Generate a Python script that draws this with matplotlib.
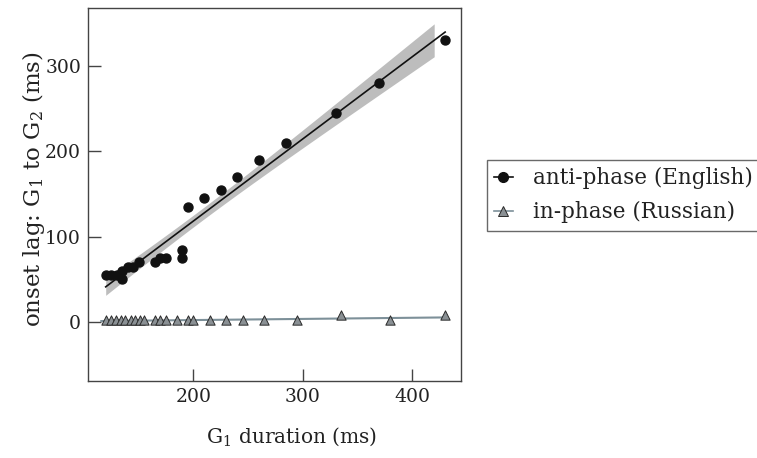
import numpy as np
import matplotlib
matplotlib.use("Agg")
import matplotlib.pyplot as plt

plt.rcParams['font.family'] = ['DejaVu Serif']
plt.rcParams['mathtext.fontset'] = 'dejavuserif'

# anti-phase (English): G1 duration vs onset lag
anti_x = [120, 125, 130, 135, 135, 140, 145, 150, 165, 170, 175, 190, 190,
          195, 210, 225, 240, 260, 285, 330, 370, 430]
anti_y = [55, 55, 55, 50, 60, 65, 65, 70, 70, 75, 75, 85, 75,
          135, 145, 155, 170, 190, 210, 245, 280, 330]

# in-phase (Russian)
in_x = [120, 125, 129, 134, 138, 143, 147, 151, 155, 165, 170, 175, 185,
        195, 200, 215, 230, 245, 265, 295, 335, 380, 430]
in_y = [2, 2, 2, 2, 2, 2, 2, 2, 2, 2, 2, 2, 2,
        2, 2, 2, 2, 2, 2, 2, 8, 2, 8]

xticks = [200, 300, 400]
yticks = [0, 100, 200, 300]


def fit_band(x, y, xs):
    x = np.asarray(x, float)
    y = np.asarray(y, float)
    n = len(x)
    b, a = np.polyfit(x, y, 1)
    resid = y - (a + b * x)
    s = np.sqrt(np.sum(resid ** 2) / (n - 2))
    se = s * np.sqrt(1 / n + (xs - x.mean()) ** 2 / np.sum((x - x.mean()) ** 2))
    fit = a + b * xs
    return fit, 2.2 * se


fig = plt.figure(figsize=(7.57, 4.58), dpi=100)
ax = fig.add_axes([0.1162, 0.168, 0.4928, 0.8145])

# regression band + line for anti-phase
xb = np.linspace(min(anti_x), 420, 100)
fit, ci = fit_band(anti_x, anti_y, xb)
ax.fill_between(xb, fit - ci, fit + ci, color='#bdbdbd', lw=0, zorder=1)
xl = np.linspace(min(anti_x), max(anti_x), 100)
fl, _ = fit_band(anti_x, anti_y, xl)
ax.plot(xl, fl, color='#111111', lw=1.2, zorder=2)

# in-phase line
b2, a2 = np.polyfit(in_x, in_y, 1)
xi = np.linspace(min(in_x) - 4, max(in_x), 100)
ax.plot(xi, a2 + b2 * xi, color='#7d9099', lw=1.5, zorder=2)

ax.scatter(anti_x, anti_y, s=42, color='#111111', zorder=3)
ax.scatter(in_x, in_y, s=45, marker='^', facecolor='#8a9094',
           edgecolor='#2a2a2a', linewidth=0.7, zorder=3)

ax.set_xlim(103.8, 444.5)
ax.set_ylim(-69, 368)
ax.set_xticks(xticks)
ax.set_yticks(yticks)
ax.tick_params(direction='in', length=9, width=1, color='#444444',
               labelsize=13.5, pad=5, labelcolor='#222222')
for sp in ax.spines.values():
    sp.set_color('#444444')
    sp.set_linewidth(1)

ax.set_xlabel('G$_1$ duration (ms)', fontsize=14.5, color='#222222')
ax.xaxis.set_label_coords(0.547, -0.12)
ax.set_ylabel('onset lag: G$_1$ to G$_2$ (ms)', fontsize=16.5,
              color='#222222')
ax.yaxis.set_label_coords(-0.11, 0.515)

h1, = ax.plot([], [], color='#111111', marker='o', ms=7, lw=1.2)
h2, = ax.plot([], [], color='#7d9099', marker='^', ms=7, lw=1.2,
              mfc='#8a9094', mec='#2a2a2a', mew=0.7)
leg = fig.legend([h1, h2], ['anti-phase (English)', 'in-phase (Russian)'],
                 loc='upper left', bbox_to_anchor=(0.643, 0.651),
                 fontsize=15.5, frameon=True, fancybox=False,
                 handlelength=0.85, handletextpad=0.95, borderpad=0.35,
                 labelspacing=0.55, borderaxespad=0)
leg.get_frame().set_edgecolor('#444444')
leg.get_frame().set_linewidth(1)
for t in leg.get_texts():
    t.set_color('#222222')

fig.savefig('out.png', dpi=100)
